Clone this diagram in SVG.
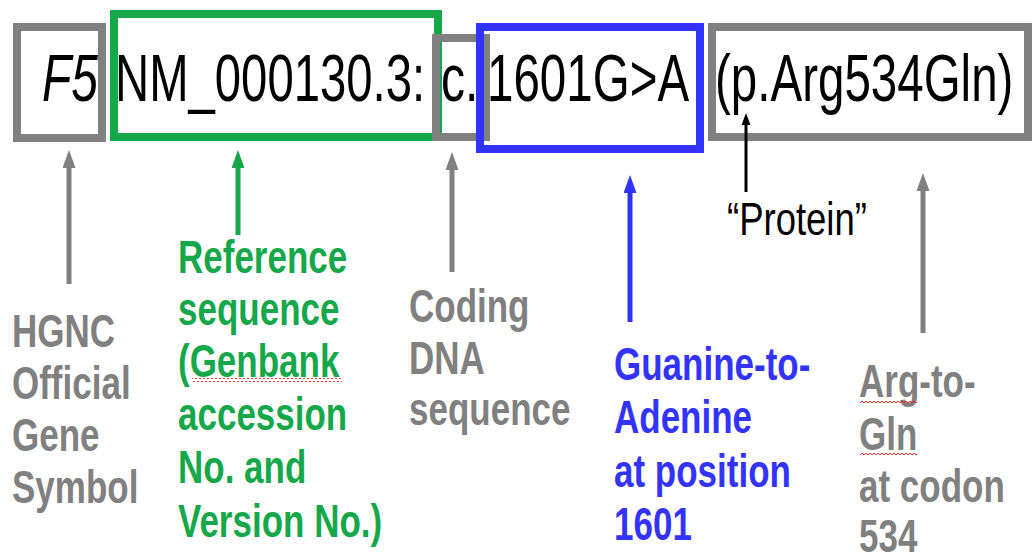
<svg xmlns="http://www.w3.org/2000/svg" width="1032" height="558" viewBox="0 0 1032 558">
<style>
.main{font-family:"Liberation Sans",Arial,sans-serif;font-size:48px;fill:#000}
.lbl{font-family:"Liberation Sans",Arial,sans-serif;font-size:35px;font-weight:bold}
.gray{fill:#808080}
.green{fill:#15A84A}
.blue{fill:#3333FF}
.box{fill:none;stroke-width:8}
.conn{fill:none;stroke-width:5}
</style>
<defs>
<marker id="ahGray" markerUnits="userSpaceOnUse" viewBox="0 0 18 13" refX="6" refY="6.5" markerWidth="18" markerHeight="13" orient="auto"><path d="M0,0 L18,6.5 L0,13 z" fill="#808080"/></marker>
<marker id="ahGreen" markerUnits="userSpaceOnUse" viewBox="0 0 18 13" refX="6" refY="6.5" markerWidth="18" markerHeight="13" orient="auto"><path d="M0,0 L18,6.5 L0,13 z" fill="#15A84A"/></marker>
<marker id="ahBlue" markerUnits="userSpaceOnUse" viewBox="0 0 18 13" refX="6" refY="6.5" markerWidth="18" markerHeight="13" orient="auto"><path d="M0,0 L18,6.5 L0,13 z" fill="#3333FF"/></marker>
<marker id="ahBlack" markerUnits="userSpaceOnUse" viewBox="0 0 12 9" refX="4" refY="4.5" markerWidth="12" markerHeight="9" orient="auto"><path d="M0,0 L12,4.5 L0,9 z" fill="#000"/></marker>
<pattern id="squig" patternUnits="userSpaceOnUse" width="4" height="4"><path d="M0,3 L2,1 L4,3" fill="none" stroke="#FF0000" stroke-width="0.8"/></pattern>
</defs>
<rect width="1032" height="558" fill="#fff"/>

<g id="node-gene">
<rect class="box" x="17" y="27" width="85" height="111" stroke="#808080"/>
<text class="main" font-style="italic" transform="translate(42,101) scale(1,1.4)">F5</text>
</g>
<g id="node-refseq">
<rect class="box" x="114" y="14" width="324" height="123" stroke="#15A84A"/>
<text class="main" transform="translate(115,101) scale(0.985,1.4)">NM_000130.3:</text>
</g>
<g id="node-coding">
<rect class="box" x="436" y="38" width="50" height="99" stroke="#808080"/>
<text class="main" transform="translate(441,101) scale(1,1.4)">c.</text>
</g>
<g id="node-change">
<rect class="box" x="480" y="27" width="220" height="122" stroke="#3333FF"/>
<text class="main" transform="translate(487,101) scale(0.99,1.4)">1601G&gt;A</text>
</g>
<g id="node-protein">
<rect class="box" x="712" y="27" width="316" height="110" stroke="#808080"/>
<text class="main" transform="translate(715,101) scale(0.99,1.4)">(p.Arg534Gln)</text>
</g>

<g id="connectors">
<line class="conn" x1="69" y1="284" x2="69" y2="162" stroke="#808080" marker-end="url(#ahGray)"/>
<line class="conn" x1="238" y1="235" x2="238" y2="162" stroke="#15A84A" marker-end="url(#ahGreen)"/>
<line class="conn" x1="452" y1="272" x2="452" y2="164" stroke="#808080" marker-end="url(#ahGray)"/>
<line class="conn" x1="630" y1="322" x2="630" y2="187" stroke="#3333FF" marker-end="url(#ahBlue)"/>
<line x1="746" y1="192" x2="746" y2="121" stroke="#000" stroke-width="3" marker-end="url(#ahBlack)"/>
<line class="conn" x1="923" y1="333" x2="923" y2="185" stroke="#808080" marker-end="url(#ahGray)"/>
</g>

<g id="label-protein">
<text class="main" style="font-size:36.5px" transform="translate(727,235) scale(1,1.28)">“Protein”</text>
</g>

<g id="label-hgnc" class="lbl gray">
<text transform="translate(12,347) scale(1,1.33)">HGNC</text>
<text transform="translate(12,399) scale(1,1.33)">Official</text>
<text transform="translate(12,451) scale(1,1.33)">Gene</text>
<text transform="translate(12,503) scale(1,1.33)">Symbol</text>
</g>

<g id="label-refseq" class="lbl green">
<text transform="translate(178,273) scale(1,1.33)">Reference</text>
<text transform="translate(178,325) scale(1,1.33)">sequence</text>
<text transform="translate(178,377) scale(1,1.33)">(Genbank</text>
<text transform="translate(178,430) scale(1,1.33)">accession</text>
<text transform="translate(178,483) scale(1,1.33)">No. and</text>
<text transform="translate(178,537) scale(1,1.33)">Version No.)</text>
<rect x="192" y="378" width="150" height="4" fill="url(#squig)"/>
</g>

<g id="label-coding" class="lbl gray">
<text transform="translate(409,322) scale(1,1.33)">Coding</text>
<text transform="translate(409,374) scale(1,1.33)">DNA</text>
<text transform="translate(409,425) scale(1,1.33)">sequence</text>
</g>

<g id="label-change" class="lbl blue">
<text transform="translate(614,380) scale(1,1.33)">Guanine-to-</text>
<text transform="translate(614,433) scale(1,1.33)">Adenine</text>
<text transform="translate(614,487) scale(1,1.33)">at position</text>
<text transform="translate(614,540) scale(1,1.33)">1601</text>
</g>

<g id="label-aa" class="lbl gray">
<text transform="translate(859,397) scale(1,1.33)">Arg-to-</text>
<text transform="translate(859,450) scale(1,1.33)">Gln</text>
<text transform="translate(859,502) scale(1,1.33)">at codon</text>
<text transform="translate(859,552) scale(1,1.33)">534</text>
<rect x="860" y="400" width="57" height="4" fill="url(#squig)"/>
<rect x="860" y="452" width="57" height="4" fill="url(#squig)"/>
</g>
</svg>
